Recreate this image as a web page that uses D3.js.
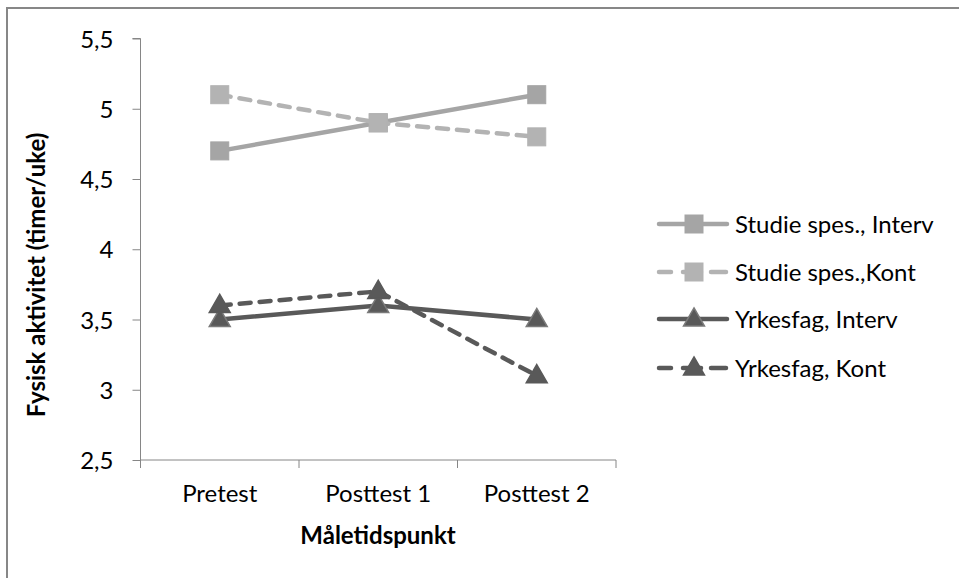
<!DOCTYPE html>
<html><head><meta charset="utf-8">
<script src="https://cdn.jsdelivr.net/npm/d3@7"></script>
<style>body{margin:0;background:#fff}svg{display:block}text{font-family:Lato,"Open Sans",sans-serif}</style>
</head><body>
<svg id="c" width="959" height="578"></svg>
<script>
const categories = ["Pretest", "Posttest 1", "Posttest 2"];
const seriesNames = ["Studie spes., Interv", "Studie spes.,Kont", "Yrkesfag, Interv", "Yrkesfag, Kont"];
const studieInterv = [4.7, 4.9, 5.1];
const studieKont = [5.1, 4.9, 4.8];
const yrkesInterv = [3.5, 3.6, 3.5];
const yrkesKont = [3.6, 3.7, 3.1];
const yTicks = [2.5, 3, 3.5, 4, 4.5, 5, 5.5];
const yTitle = "Fysisk aktivitet (timer/uke)";
const xTitle = "Måletidspunkt";

const styles = [
  {color:"#a5a5a5", dash:null, marker:"square", mstroke:"#a5a5a5"},
  {color:"#b3b3b3", dash:"11,9", marker:"square", mstroke:"#b3b3b3"},
  {color:"#595959", dash:null, marker:"triangle", mstroke:"#7a7a7a"},
  {color:"#595959", dash:"11,9", marker:"triangle", mstroke:"#595959"}
];
const values = [studieInterv, studieKont, yrkesInterv, yrkesKont];
const FS = "24px";

const svg = d3.select("#c");
svg.append("rect").attr("x",7).attr("y",8).attr("width",990).attr("height",600)
  .attr("fill","none").attr("stroke","#878787").attr("stroke-width",2);

const x = d3.scaleBand().domain(categories).range([140.5, 616]);
const y = d3.scaleLinear().domain([2.5, 5.5]).range([460, 38.5]);

const axisColor = "#868686";
const gy = svg.append("g").attr("transform","translate(140.5,0)")
  .call(d3.axisLeft(y).tickValues(yTicks).tickSize(8).tickPadding(19)
    .tickFormat(d => String(d).replace(".", ",")));
gy.select(".domain").attr("stroke",axisColor).attr("d","M-8,38.5H0V460");
gy.selectAll(".tick line").attr("stroke",axisColor);
gy.selectAll(".tick text").attr("fill","#000").style("font-size",FS).attr("dy","0.36em");

const gx = svg.append("g").attr("transform","translate(0,460)")
  .call(d3.axisBottom(x).tickSize(0).tickPadding(25));
gx.select(".domain").attr("stroke",axisColor).attr("d","M140.5,0H616");
gx.selectAll(".tick text").attr("fill","#000").style("font-size",FS);
const bounds = [categories[0]].map(c=>x(c)).concat(categories.map(c=>x(c)+x.bandwidth()));
gx.selectAll(".sep").data(bounds).enter().append("line").attr("class","sep")
  .attr("x1",d=>d).attr("x2",d=>d).attr("y1",0).attr("y2",8).attr("stroke",axisColor);

svg.append("text").attr("x",378).attr("y",544).attr("text-anchor","middle")
  .style("font-size",FS).style("font-weight","bold").text(xTitle);
svg.append("text").attr("transform","translate(45,275) rotate(-90)").attr("text-anchor","middle")
  .style("font-size",FS).style("font-weight","bold").text(yTitle);

const cx = c => x(c) + x.bandwidth()/2;
const line = d3.line().x((d,i)=>cx(categories[i])).y(d=>y(d));
const tri = d3.symbol().type(d3.symbolTriangle).size(190);

function marker(g, s, px, py){
  if(s.marker==="square"){
    g.append("rect").attr("x",px-9).attr("y",py-9).attr("width",18).attr("height",18)
      .attr("fill",s.color).attr("stroke",s.mstroke).attr("stroke-width",1);
  } else {
    g.append("path").attr("d",tri()).attr("transform",`translate(${px},${py+1})`)
      .attr("fill",s.color).attr("stroke",s.mstroke).attr("stroke-width",1.5);
  }
}

values.forEach((vals, k) => {
  const s = styles[k];
  const g = svg.append("g");
  g.append("path").datum(vals).attr("d", line).attr("fill","none")
    .attr("stroke", s.color).attr("stroke-width",4.5).attr("stroke-linecap","round")
    .attr("stroke-dasharray", s.dash);
  vals.forEach((v,i)=> marker(g, s, cx(categories[i]), y(v)));
});

const legY = [224, 272, 319, 368];
seriesNames.forEach((n,k)=>{
  const s = styles[k];
  const g = svg.append("g");
  const ly = legY[k];
  if(s.dash){
    [[659,671],[683,701],[711,726]].forEach(([a,b])=>{
      g.append("line").attr("x1",a).attr("x2",b).attr("y1",ly).attr("y2",ly)
        .attr("stroke",s.color).attr("stroke-width",4.5).attr("stroke-linecap","round");
    });
  } else {
    g.append("line").attr("x1",659).attr("x2",727).attr("y1",ly).attr("y2",ly)
      .attr("stroke",s.color).attr("stroke-width",4.5).attr("stroke-linecap","round");
  }
  marker(g, s, 694, ly);
  g.append("text").attr("x",735).attr("y",ly).attr("dy","0.36em")
    .style("font-size",FS).text(n);
});
</script>
</body></html>
